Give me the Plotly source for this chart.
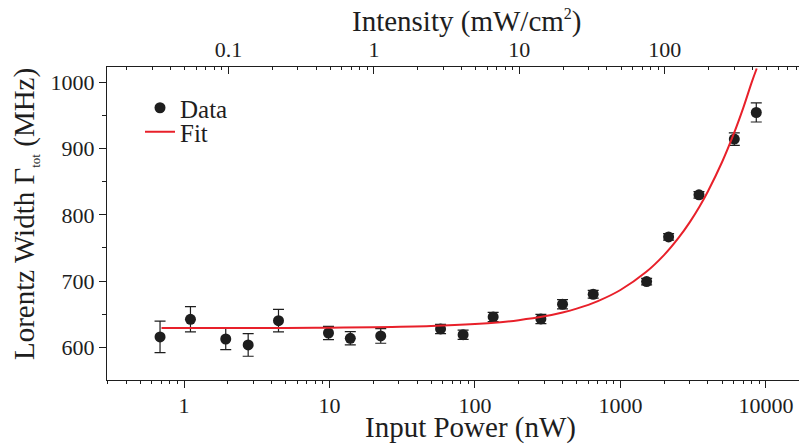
import numpy as np
import plotly.graph_objects as go

# ---- data ----
power_nw = [0.684, 1.107, 1.935, 2.76, 4.46, 9.84, 13.9, 22.5, 58.0, 82.9,
            133.4, 284, 400, 650, 1514, 2144, 3467, 6067, 8590]
width_mhz = [615.6, 642.3, 612.5, 603.5, 640.2, 621.6, 613.6, 617.1, 627.7, 619.0,
             645.8, 642.8, 665.0, 680.1, 699.2, 766.7, 830.2, 914.4, 954.6]
width_err = [23.8, 19.0, 16.0, 17.0, 17.0, 10.0, 10.0, 11.0, 7.0, 7.0,
             7.0, 7.0, 7.0, 6.0, 5.0, 5.0, 5.0, 9.5, 14.4]

fit_power = [0.7, 2, 5, 10, 20, 50, 100, 150, 200, 300, 400, 500, 700, 1000,
             1500, 2000, 2500, 3000, 3500, 4000, 5000, 6000, 7000, 8000, 8650]
fit_width = [629.0, 629.1, 629.3, 629.6, 630.2, 632.0, 635.0, 638.0, 641.0, 646.8,
             652.6, 658.4, 669.8, 686.5, 713.6, 739.6, 764.8, 789.1, 812.7, 835.7,
             879.8, 921.8, 962.0, 1000.5, 1021.0]

bottom_ticks = [1, 10, 100, 1000, 10000]
top_ticks = [0.1, 1, 10, 100]
top_tick_text = ["0.1", "1", "10", "100"]
y_ticks = [600, 700, 800, 900, 1000]
y_minor = [650, 750, 850, 950]

x_title = "Input Power (nW)"
top_title = "Intensity (mW/cm<sup><span style='font-size:16px'>2</span></sup>)"
y_title = "Lorentz Width Γ<sub><span style='font-size:13px'>tot</span></sub> (MHz)"

power_per_intensity = 20.2  # nW per (mW/cm^2), from aligned axes

FONT = "Liberation Serif"
INK = "#1e1e1e"

x_log_range = [-0.5296, 4.2827]
y_range = [550.6, 1023.3]
top_range = [v - np.log10(power_per_intensity) for v in x_log_range]


def log_minor(lo, hi):
    vals = []
    for d in range(int(np.floor(lo)) - 1, int(np.ceil(hi)) + 1):
        for m in range(2, 10):
            v = m * 10.0 ** d
            if lo <= np.log10(v) <= hi:
                vals.append(v)
    return vals


fig = go.Figure()

fig.add_trace(go.Scatter(
    x=power_nw, y=width_mhz, mode="markers", name="Data", legend="legend",
    marker=dict(size=11, color=INK),
    error_y=dict(type="data", array=width_err, visible=True,
                 color=INK, thickness=1.2, width=5.5),
))
fig.add_trace(go.Scatter(
    x=fit_power, y=fit_width, mode="lines", name="Fit", legend="legend2",
    line=dict(color="#e8202a", width=2, shape="spline"),
))
# invisible helpers for the extra axes
fig.add_trace(go.Scatter(x=[1], y=[800], xaxis="x2", yaxis="y",
                         mode="markers", marker=dict(opacity=0),
                         showlegend=False, hoverinfo="skip"))
fig.add_trace(go.Scatter(x=[1], y=[800], xaxis="x", yaxis="y2",
                         mode="markers", marker=dict(opacity=0),
                         showlegend=False, hoverinfo="skip"))

tickfont = dict(family=FONT, size=22, color=INK)
titlefont = dict(family=FONT, size=29, color=INK)
legfont = dict(family=FONT, size=25, color=INK)

# plot-area edges in page pixels; the page body adds an 8px offset
OFF = 8
L, R, T, B = 107, 807, 67, 380
PW, PH = R - L, B - T


def px_x(x):
    return (x - L) / PW


def px_y(y):
    return (B - y) / PH


fig.update_layout(
    width=807, height=444,
    margin=dict(l=L - OFF, r=807 - (R - OFF), t=T - OFF, b=444 - (B - OFF)),
    paper_bgcolor="white", plot_bgcolor="white",
    font=dict(family=FONT, color=INK),
    showlegend=True,
    legend=dict(x=px_x(140), y=px_y(108), xanchor="left", yanchor="middle",
                bgcolor="rgba(0,0,0,0)", font=legfont, itemwidth=30),
    legend2=dict(x=px_x(140), y=px_y(132), xanchor="left", yanchor="middle",
                 bgcolor="rgba(0,0,0,0)", font=legfont, itemwidth=30),
    xaxis=dict(
        type="log", range=x_log_range, showgrid=False, zeroline=False,
        automargin=False,
        showline=True, linecolor=INK, linewidth=1.3,
        ticks="outside", ticklen=7, tickwidth=1.2, tickcolor=INK,
        tickvals=bottom_ticks, ticktext=[str(v) for v in bottom_ticks],
        tickfont=tickfont, ticklabelstandoff=-2,
        minor=dict(tickmode="array", tickvals=log_minor(*x_log_range),
                   ticks="outside", ticklen=3, tickwidth=1, tickcolor=INK,
                   showgrid=False),
    ),
    xaxis2=dict(
        type="log", range=top_range, overlaying="x", side="top", anchor="y",
        showgrid=False, zeroline=False, automargin=False,
        showline=True, linecolor=INK, linewidth=1.3,
        ticks="inside", ticklen=7, tickwidth=1.2, tickcolor=INK,
        tickvals=top_ticks, ticktext=top_tick_text, tickfont=tickfont,
        minor=dict(tickmode="array", tickvals=log_minor(*top_range),
                   ticks="inside", ticklen=3, tickwidth=1, tickcolor=INK,
                   showgrid=False),
    ),
    yaxis=dict(
        range=y_range, showgrid=False, zeroline=False, automargin=False,
        showline=True, linecolor=INK, linewidth=1.3,
        ticks="outside", ticklen=7, tickwidth=1.2, tickcolor=INK,
        tickvals=y_ticks, ticktext=[str(v) for v in y_ticks], tickfont=tickfont,
        minor=dict(tickmode="array", tickvals=y_minor, ticks="outside",
                   ticklen=4, tickwidth=1, tickcolor=INK, showgrid=False),
    ),
    yaxis2=dict(
        range=y_range, overlaying="y", side="right", anchor="x",
        showgrid=False, zeroline=False, showline=False, automargin=False,
        ticks="inside", ticklen=7, tickwidth=1.2, tickcolor=INK,
        tickvals=y_ticks, showticklabels=False,
        minor=dict(tickmode="array", tickvals=y_minor, ticks="inside",
                   ticklen=4, tickwidth=1, tickcolor=INK, showgrid=False),
    ),
    annotations=[
        dict(text=x_title, xref="paper", yref="paper", x=px_x(470), y=px_y(427),
             xanchor="center", yanchor="middle", showarrow=False, font=titlefont),
        dict(text=top_title, xref="paper", yref="paper", x=px_x(467), y=px_y(21),
             xanchor="center", yanchor="middle", showarrow=False, font=titlefont),
        dict(text=y_title, xref="paper", yref="paper", x=px_x(25), y=px_y(214),
             xanchor="center", yanchor="middle", showarrow=False, font=titlefont,
             textangle=-90),
    ],
)

fig.write_html("out.html")
